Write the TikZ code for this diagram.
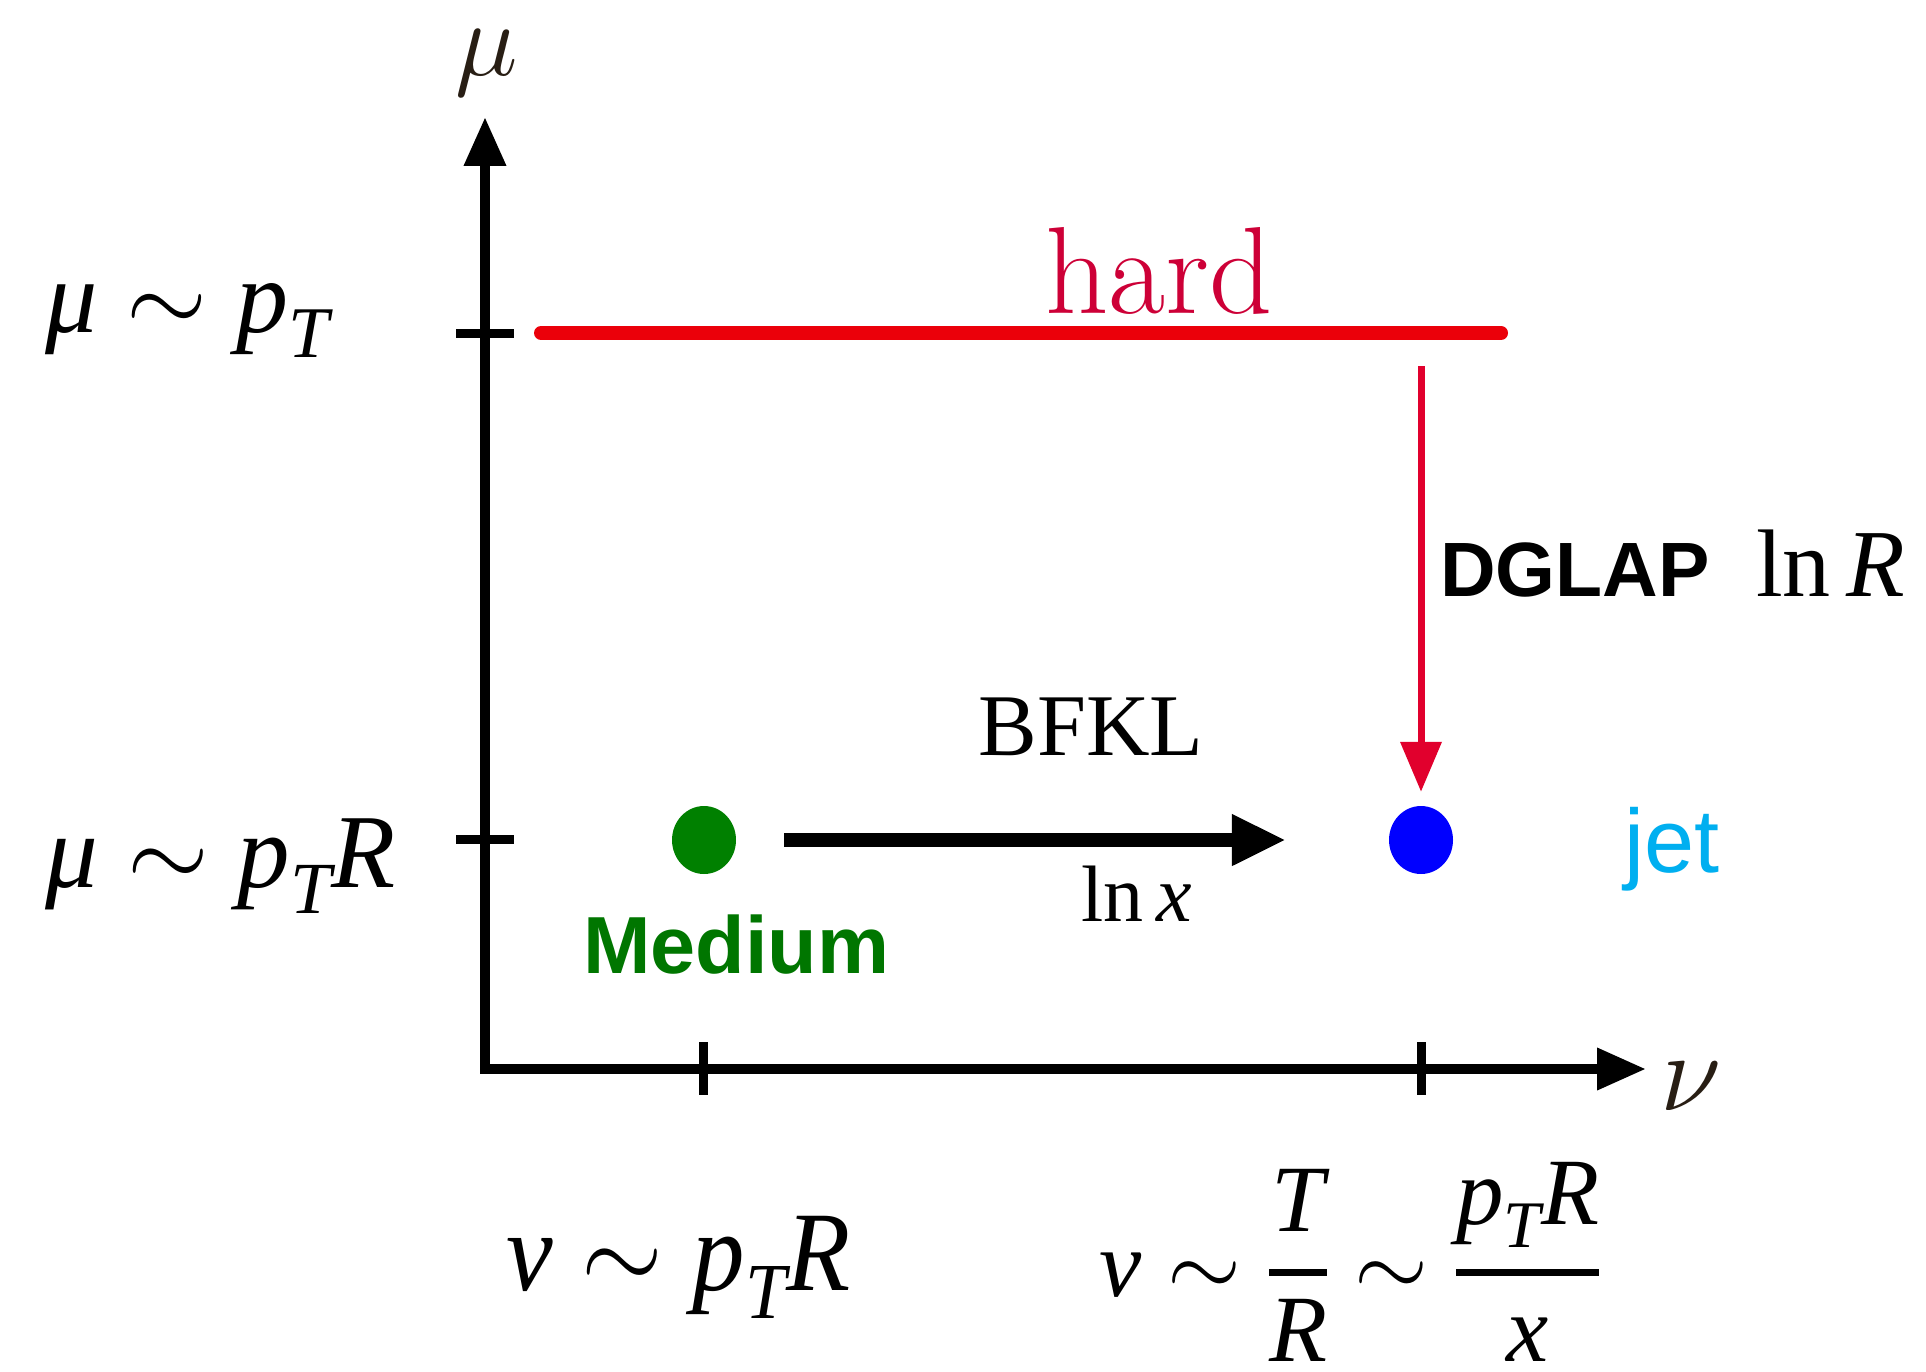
\RequirePackage{fix-cm}
\documentclass[tikz,border=0pt]{standalone}
\usepackage{amsmath}
\usepackage{fontspec}
\usetikzlibrary{arrows.meta,shapes.geometric}
\newfontfamily\tms{Liberation Serif}
\newfontfamily\hel{Liberation Sans}
\definecolor{hardred}{RGB}{235,0,10}
\definecolor{hardtxt}{RGB}{205,0,55}
\definecolor{arrred}{RGB}{225,0,45}
\definecolor{medgreen}{RGB}{0,118,0}
\definecolor{dotgreen}{RGB}{0,128,0}
\definecolor{jetcyan}{RGB}{0,175,240}
\definecolor{axlab}{RGB}{40,30,20}
\newcommand\tvar[1]{\text{\tms\itshape #1}}
\newcommand\trm[1]{\text{\tms #1}}
\newcommand\fs[1]{\fontsize{#1}{#1}\selectfont}
\newcommand\thfrac[2]{\genfrac{}{}{7pt}{0}{#1}{#2}}
\begin{document}
\begin{tikzpicture}[x=1pt,y=-1pt,
  axisline/.style={line width=10pt, line join=miter,
     {Triangle[length=49pt,width=40pt]}-{Triangle[length=49pt,width=40pt]}},
  tickmark/.style={line width=9pt},
  lab/.style={inner sep=0pt, anchor=base west},
  dot/.style={ellipse, inner sep=0pt, minimum width=64pt, minimum height=68pt},
]
\fill[white] (0,0) rectangle (1926,1372);
\useasboundingbox (0,0) rectangle (1926,1372);
% axes
\coordinate (O) at (485,1069);
\coordinate (ytop) at (485,117);
\coordinate (xend) at (1646,1069);
\draw[axisline] (ytop) -- (O) -- (xend);
% ticks
\draw[tickmark] (456,333) -- (514,333);
\draw[tickmark] (456,839) -- (514,839);
\draw[tickmark] (703,1042) -- (703,1095);
\draw[tickmark] (1421,1042) -- (1421,1095);
% axis labels
\node[anchor=base, text=axlab, inner sep=0pt] (mu) at (487,76) {\fs{106}$\mu$};
\node[anchor=base west, text=axlab, inner sep=0pt] (nu) at (1660,1110) {\fs{112}$\nu$};
% hard line
\coordinate (hardL) at (541,333);
\coordinate (hardR) at (1501,333);
\coordinate (hR) at (1421,333);
\draw[hardred, line width=14pt, line cap=round] (hardL) -- (hardR);
\node[anchor=base, text=hardtxt, inner sep=0pt] (hardlab) at (1159,313) {\fs{124}hard};
% dots
\node[dot, fill=dotgreen] (med) at (704,840) {};
\node[dot, fill=blue] (jet) at (1421,840) {};
% arrows
\draw[line width=14pt, -{Triangle[length=54pt,width=48pt]}, shorten <=48pt, shorten >=103pt] (med) -- (jet);
\draw[arrred, line width=7pt, -{Triangle[length=50pt,width=40pt]}, shorten <=33pt, shorten >=14pt] (hR) -- (jet);
% labels
\node[anchor=base, inner sep=0pt] (bfkl) at (1091,755) {\fs{88}\tms BFKL};
\node[lab] (lnx) at (1081,921) {\fs{80}$\trm{ln}\,\tvar{x}$};
\node[lab] (dglap) at (1440,596) {\fs{77}\hel\bfseries DGLAP};
\node[lab] (lnR) at (1756,596) {\fs{96}$\trm{ln}\,\tvar{R}$};
\node[lab, text=jetcyan] (jetlab) at (1624,872) {\fs{90}\hel jet};
\node[lab, text=medgreen] (medlab) at (583,973) {\fs{81}\hel\bfseries Medium};
\node[lab] (lp1) at (45,332) {\fs{104}$\tvar{μ}\sim\tvar{p}_{\tvar{T}}$};
\node[lab] (lp2) at (45,887) {\fs{105}$\tvar{μ}\sim\tvar{p}_{\tvar{T}}\tvar{R}$};
\node[lab, yscale=1.08] (b1) at (506,1290) {\fs{105}$\tvar{ν}\sim\tvar{p}_{\tvar{T}}\tvar{R}$};
\node[lab] (b2) at (1099,1296) {\fs{95}$\tvar{ν}\sim\thfrac{\tvar{T}}{\tvar{R}}\sim\thfrac{\tvar{p}_{\tvar{T}}\tvar{R}}{\tvar{x}}$};
\end{tikzpicture}
\end{document}
